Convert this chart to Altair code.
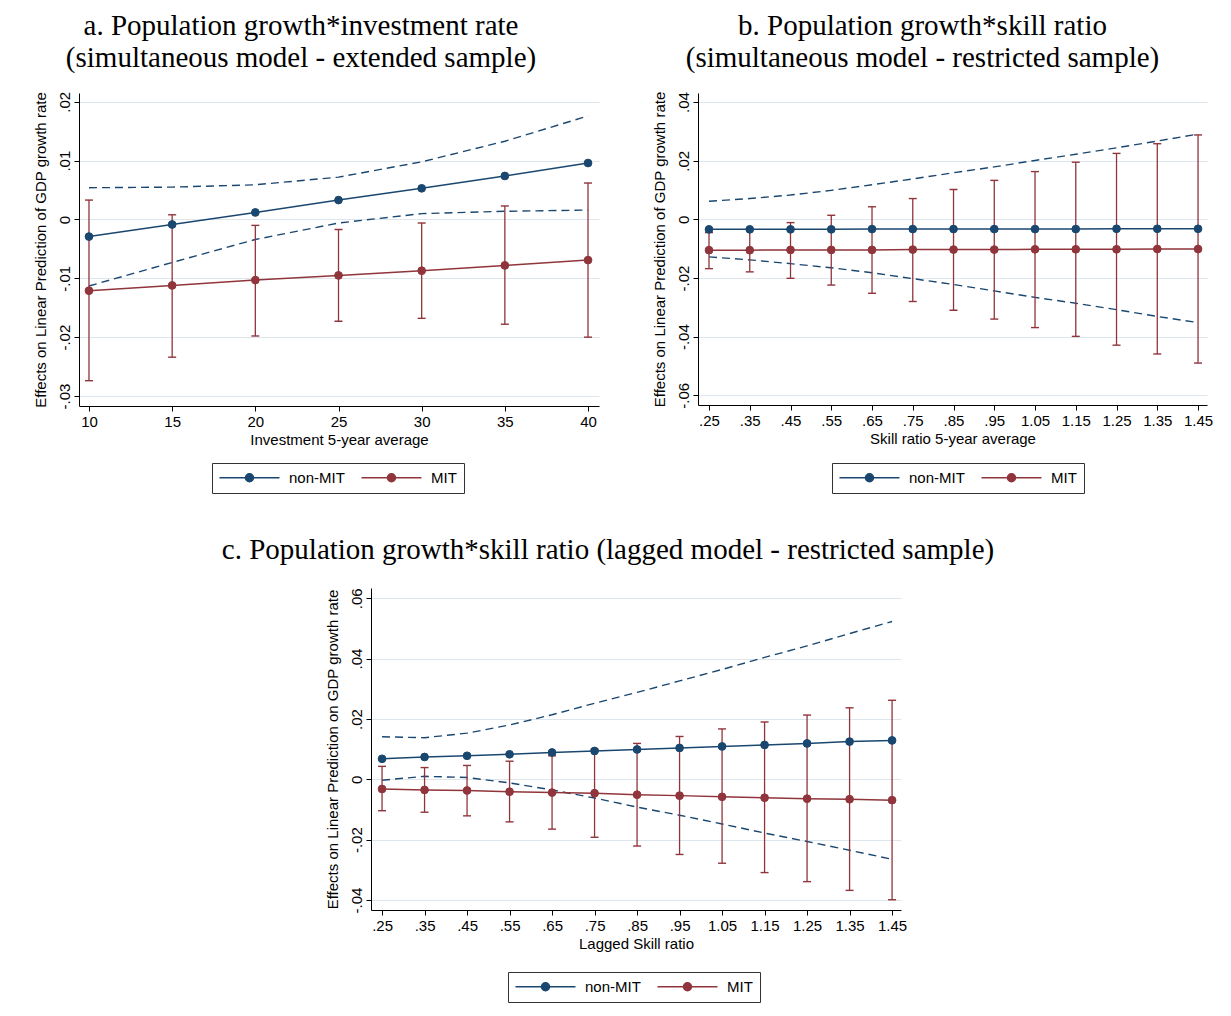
import altair as alt
import pandas as pd

NAVY = "#1a476f"
MAROON = "#90353b"
GRID = "#dde6ec"
GROUPS = ["non-MIT", "MIT"]

# ---------------- Panel a ----------------
a_x = [10, 15, 20, 25, 30, 35, 40]
a_non = [-0.0029, -0.00085, 0.0012, 0.0033, 0.0053, 0.0074, 0.0096]
a_non_hi = [0.0054, 0.0055, 0.0059, 0.0072, 0.0098, 0.0133, 0.0176]
a_non_lo = [-0.0113, -0.0073, -0.0034, -0.0006, 0.0010, 0.0014, 0.0016]
a_mit = [-0.0121, -0.0112, -0.0103, -0.0095, -0.0087, -0.0078, -0.0069]
a_mit_hi = [0.0033, 0.0008, -0.0010, -0.0017, -0.0006, 0.0023, 0.0062]
a_mit_lo = [-0.0274, -0.0234, -0.0198, -0.0173, -0.0168, -0.0178, -0.0200]
a_xticks = [10, 15, 20, 25, 30, 35, 40]
a_yticks = [-0.03, -0.02, -0.01, 0, 0.01, 0.02]

# ---------------- Panel b ----------------
b_x = [0.25, 0.35, 0.45, 0.55, 0.65, 0.75, 0.85, 0.95, 1.05, 1.15, 1.25, 1.35, 1.45]
b_non = [-0.0034, -0.0034, -0.0034, -0.0034, -0.0033, -0.0033, -0.0033,
         -0.0033, -0.0033, -0.0033, -0.0032, -0.0032, -0.0032]
b_non_hi = [0.0062, 0.0071, 0.0083, 0.0099, 0.0118, 0.0138, 0.0159,
            0.0179, 0.0201, 0.0222, 0.0244, 0.0267, 0.0291]
b_non_lo = [-0.0128, -0.0138, -0.0151, -0.0165, -0.0182, -0.0202, -0.0222,
            -0.0244, -0.0266, -0.0286, -0.0308, -0.0331, -0.0352]
b_mit = [-0.0105, -0.0105, -0.0104, -0.0104, -0.0104, -0.0103, -0.0103,
         -0.0103, -0.0102, -0.0102, -0.0102, -0.0101, -0.0101]
b_mit_hi = [-0.0045, -0.0033, -0.0011, 0.0014, 0.0043, 0.0071, 0.0102,
            0.0133, 0.0163, 0.0195, 0.0225, 0.0258, 0.0288]
b_mit_lo = [-0.0168, -0.0179, -0.0201, -0.0224, -0.0252, -0.0280, -0.0310,
            -0.0340, -0.0369, -0.0399, -0.0429, -0.0459, -0.0490]
b_xticks = b_x
b_yticks = [-0.06, -0.04, -0.02, 0, 0.02, 0.04]

# ---------------- Panel c ----------------
c_x = b_x
c_non = [0.0068, 0.0074, 0.0078, 0.0083, 0.0089, 0.0094, 0.0099,
         0.0104, 0.0109, 0.0114, 0.0119, 0.0125, 0.0129]
c_non_hi = [0.0141, 0.0138, 0.0153, 0.0180, 0.0214, 0.0252, 0.0288,
            0.0326, 0.0364, 0.0404, 0.0442, 0.0483, 0.0523]
c_non_lo = [-0.0003, 0.0010, 0.0006, -0.0012, -0.0035, -0.0062, -0.0092,
            -0.0119, -0.0148, -0.0178, -0.0206, -0.0235, -0.0265]
c_mit = [-0.0032, -0.0035, -0.0037, -0.0041, -0.0044, -0.0046, -0.0051,
         -0.0054, -0.0058, -0.0061, -0.0064, -0.0066, -0.0069]
c_mit_hi = [0.0043, 0.0039, 0.0046, 0.0060, 0.0078, 0.0100, 0.0119,
            0.0142, 0.0167, 0.0190, 0.0213, 0.0237, 0.0262]
c_mit_lo = [-0.0104, -0.0109, -0.0121, -0.0141, -0.0165, -0.0192, -0.0221,
            -0.0249, -0.0278, -0.0309, -0.0339, -0.0368, -0.0399]
c_xticks = b_x
c_yticks = [-0.04, -0.02, 0, 0.02, 0.04, 0.06]

LABEL_EXPR = "(datum.value < 0 ? '-' : '') + replace(format(abs(datum.value), '.2~f'), '0.', '.')"
SYM = "M-1.17,0L8.83,0M3.16,0A0.67,0.67,0,1,1,4.5,0A0.67,0.67,0,1,1,3.16,0Z"


def make_panel(xs, non, non_lo, non_hi, mit, mit_lo, mit_hi,
               x_dom, y_dom, x_ticks, y_ticks, x_title, y_title,
               title_lines, title_dx, title_offset, w, h, leg_x, leg_y):
    n = len(xs)
    main = pd.DataFrame({"x": list(xs) * 2, "y": non + mit,
                         "group": ["non-MIT"] * n + ["MIT"] * n})
    ci = pd.DataFrame({"x": list(xs) * 2, "y": non_lo + non_hi,
                       "bound": ["lo"] * n + ["hi"] * n})
    eb = pd.DataFrame({"x": list(xs), "y": mit_lo, "y2": mit_hi})
    caps = pd.DataFrame({"x": list(xs) * 2, "y": mit_lo + mit_hi})

    xaxis = alt.Axis(values=x_ticks, title=x_title, labelExpr=LABEL_EXPR,
                     grid=False, labelPadding=3, titlePadding=3)
    yaxis = alt.Axis(values=y_ticks, title=y_title, labelExpr=LABEL_EXPR,
                     grid=True, labelAngle=-90, labelAlign="center",
                     labelBaseline="bottom", labelPadding=2, titlePadding=9)

    def X():
        return alt.X("x:Q", scale=alt.Scale(domain=x_dom, nice=False, zero=False), axis=xaxis)

    def Y():
        return alt.Y("y:Q", scale=alt.Scale(domain=y_dom, nice=False, zero=False), axis=yaxis)

    scale = alt.Scale(domain=GROUPS, range=[NAVY, MAROON])
    leg = alt.Legend(title=None, orient="none", legendX=leg_x, legendY=leg_y,
                     direction="horizontal", columns=2, symbolType=SYM,
                     symbolSize=144, symbolStrokeWidth=1.5, labelOffset=55,
                     columnPadding=13, padding=7, strokeColor="#333333",
                     fillColor="white", labelFont="Liberation Sans",
                     labelFontSize=15, labelColor="black")

    dashed = alt.Chart(ci).mark_line(color=NAVY, strokeWidth=1.4, strokeDash=[8, 5]).encode(
        x=X(), y=Y(), detail="bound:N")
    rules = alt.Chart(eb).mark_rule(color=MAROON, strokeWidth=1.3).encode(
        x=X(), y=Y(), y2="y2:Q")
    capm = alt.Chart(caps).mark_tick(color=MAROON, orient="horizontal", size=8,
                                     thickness=1.4, opacity=1).encode(x=X(), y=Y())
    line_non = alt.Chart(main).transform_filter(alt.datum.group == "non-MIT").mark_line(
        color=NAVY, strokeWidth=1.5).encode(x=X(), y=Y())
    line_mit = alt.Chart(main).transform_filter(alt.datum.group == "MIT").mark_line(
        color=MAROON, strokeWidth=1.5).encode(x=X(), y=Y())
    pts = alt.Chart(main).mark_point(filled=True, size=60, opacity=1, strokeWidth=1).encode(
        x=X(), y=Y(),
        fill=alt.Fill("group:N", scale=scale, legend=leg),
        stroke=alt.Stroke("group:N", scale=scale, legend=leg))

    return alt.layer(dashed, rules, capm, line_non, line_mit, pts).properties(
        width=w, height=h,
        title=alt.TitleParams(text=title_lines, font="Liberation Serif", fontSize=29,
                              fontWeight="normal", color="black", anchor="middle",
                              dx=title_dx, offset=title_offset, lineHeight=32))


pa = make_panel(a_x, a_non, a_non_lo, a_non_hi, a_mit, a_mit_lo, a_mit_hi,
                [9.4, 40.66], [-0.0317, 0.0215], a_xticks, a_yticks,
                "Investment 5-year average",
                "Effects on Linear Prediction of GDP growth rate",
                ["a. Population growth*investment rate",
                 "(simultaneous model - extended sample)"],
                -38, 18, 520, 313, 133, 370)

pb = make_panel(b_x, b_non, b_non_lo, b_non_hi, b_mit, b_mit_lo, b_mit_hi,
                [0.223, 1.472], [-0.0633, 0.0431], b_xticks, b_yticks,
                "Skill ratio 5-year average",
                "Effects on Linear Prediction of GDP growth rate",
                ["b. Population growth*skill ratio",
                 "(simultaneous model - restricted sample)"],
                -30, 18, 509, 312, 134, 370)

pc = make_panel(c_x, c_non, c_non_lo, c_non_hi, c_mit, c_mit_lo, c_mit_hi,
                [0.224, 1.471], [-0.0433, 0.0634], c_xticks, c_yticks,
                "Lagged Skill ratio",
                "Effects on Linear Prediction on GDP growth rate",
                ["c. Population growth*skill ratio (lagged model - restricted sample)"],
                -28, 23, 530, 322, 137, 384)

# invisible spacer that offsets panel c horizontally
spacer_df = pd.DataFrame({"v": [0]})
spacer = alt.Chart(spacer_df).mark_point(opacity=0).encode(
    x=alt.X("v:Q", axis=None), y=alt.Y("v:Q", axis=None)).properties(width=142, height=10)


def indep(c):
    return c.resolve_scale(fill="independent", stroke="independent").resolve_legend(
        fill="independent", stroke="independent")


top = indep(alt.hconcat(pa, pb, spacing=52))
bottom = indep(alt.hconcat(spacer, pc, spacing=0))

chart = indep(alt.vconcat(top, bottom, spacing=41)).properties(
    padding={"left": 24, "top": 4, "right": 0, "bottom": 0}
).configure_view(stroke=None).configure_axis(
    domainColor="black", tickColor="black", labelColor="black", titleColor="black",
    labelFont="Liberation Sans", titleFont="Liberation Sans", labelFontSize=15,
    titleFontSize=15, titleFontWeight="normal", tickSize=5, domainWidth=1,
    tickWidth=1, gridColor=GRID, gridWidth=1)

chart.save("out.html", embed_options={"renderer": "svg", "actions": False})
